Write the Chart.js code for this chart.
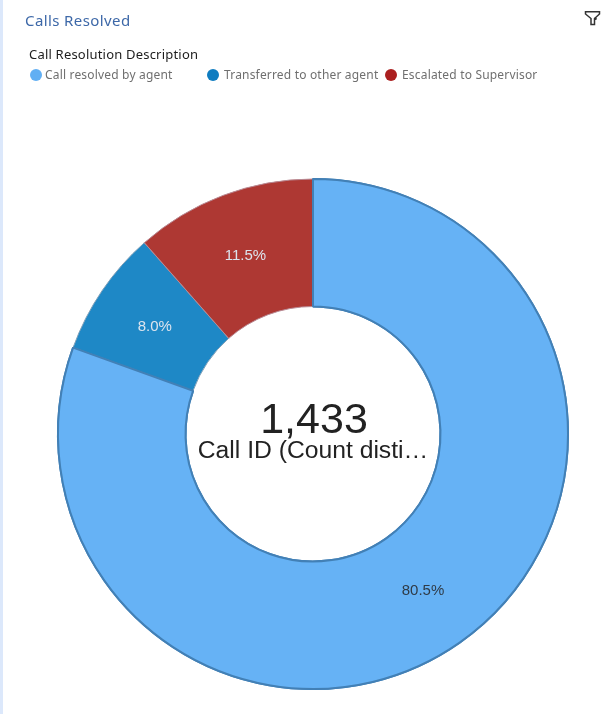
<!DOCTYPE html>
<html>
<head>
<meta charset="utf-8">
<title>Calls Resolved</title>
<script src="https://cdn.jsdelivr.net/npm/chart.js@4/dist/chart.umd.min.js"></script>
<style>
  html, body { margin: 0; padding: 0; background: #fff; }
  #page { position: relative; width: 616px; height: 714px; overflow: hidden; font-family: "Noto Sans", Roboto, sans-serif; }
  #stripe { position: absolute; left: 0; top: 0; width: 3px; height: 714px; background: #dce8fb; }
  #title { position: absolute; left: 25px; top: 10px; font-size: 15px; line-height: 20px; letter-spacing: 0.4px; color: #3d68a8; }
  #filter { position: absolute; left: 584px; top: 10px; }
  #legendTitle { position: absolute; left: 29px; top: 45px; font-size: 13px; line-height: 18px; letter-spacing: 0.2px; color: #1d1d1d; }
  #legend span { position: absolute; top: 67px; font-size: 12px; line-height: 16px; letter-spacing: 0.18px; color: #6f6f6f; white-space: nowrap; }
  #legend i { position: absolute; top: 69px; width: 12px; height: 12px; border-radius: 50%; }
  #chartBox { position: absolute; left: 0; top: 0; }
</style>
</head>
<body>
<div id="page">
  <div id="stripe"></div>
  <div id="chartBox"><canvas id="callsChart" width="616" height="714"></canvas></div>
  <div id="title">Calls Resolved</div>
  <svg id="filter" width="18" height="16" viewBox="0 0 18 16" fill="none" stroke="#333" stroke-width="1.5">
    <path d="M1.5 1.7h14v2.3l-5 4.5v6h-3.5v-6l-5.5-4.5z"/>
    <circle cx="11.5" cy="8.7" r="1.3" fill="#333" stroke="none"/>
  </svg>
  <div id="legendTitle">Call Resolution Description</div>
  <div id="legend"></div>
</div>
<script>
var categories = ["Call resolved by agent", "Transferred to other agent", "Escalated to Supervisor"];
var percents = [80.5, 8.0, 11.5];
var totalLabel = "1,433";
var totalCaption = "Call ID (Count disti\u2026";

var sliceColors = ["#66b2f5", "#1e88c6", "#ae3833"];
var legendColors = ["#61aff3", "#0f7cc0", "#ab1f1f"];
var edgeColors = ["#4280b6", "#7f9fb8", "#b98a94"];
var legendDotX = [30, 207, 385];
var legendTextX = [45, 224, 402];

// legend row sits in html so each entry can be spaced by hand
var legendBox = document.getElementById("legend");
for (var i = 0; i < categories.length; i++) {
    var dot = document.createElement("i");
    dot.style.left = legendDotX[i] + "px";
    dot.style.background = legendColors[i];
    legendBox.appendChild(dot);
    var txt = document.createElement("span");
    txt.style.left = legendTextX[i] + "px";
    txt.textContent = categories[i];
    legendBox.appendChild(txt);
}

// percent on each slice plus the total in the hole
var ringText = {
    id: "ringText",
    afterDatasetsDraw: function(chart) {
        var ctx = chart.ctx;
        var arcs = chart.getDatasetMeta(0).data;
        // big slice goes back on top so its edge stays whole along both seams
        arcs[0].draw(ctx);
        ctx.save();
        ctx.textAlign = "center";
        ctx.textBaseline = "middle";
        ctx.font = "15px 'Liberation Sans'";
        for (var i = 0; i < arcs.length; i++) {
            var p = arcs[i].tooltipPosition();
            ctx.fillStyle = i == 0 ? "#2f3b47" : "#dce4ee";
            ctx.fillText(percents[i].toFixed(1) + "%", p.x, p.y + 0.5);
        }
        var cx = arcs[0].x, cy = arcs[0].y;
        ctx.fillStyle = "#222";
        ctx.font = "43px 'Liberation Sans'";
        ctx.fillText(totalLabel, cx + 1, cy - 13);
        ctx.font = "24.7px 'Liberation Sans'";
        ctx.fillText(totalCaption, cx, cy + 17);
        ctx.restore();
    }
};

var theChart = new Chart(document.getElementById("callsChart"), {
    type: "doughnut",
    data: {
        labels: categories,
        datasets: [{
            data: percents,
            backgroundColor: sliceColors,
            borderColor: edgeColors,
            borderWidth: [2, 1, 1]
        }]
    },
    options: {
        responsive: false,
        animation: false,
        cutout: "50%",
        layout: { padding: { left: 57, right: 47, top: 178, bottom: 24 } },
        plugins: { legend: { display: false }, tooltip: { enabled: false } }
    },
    plugins: [ringText]
});
</script>
</body>
</html>
